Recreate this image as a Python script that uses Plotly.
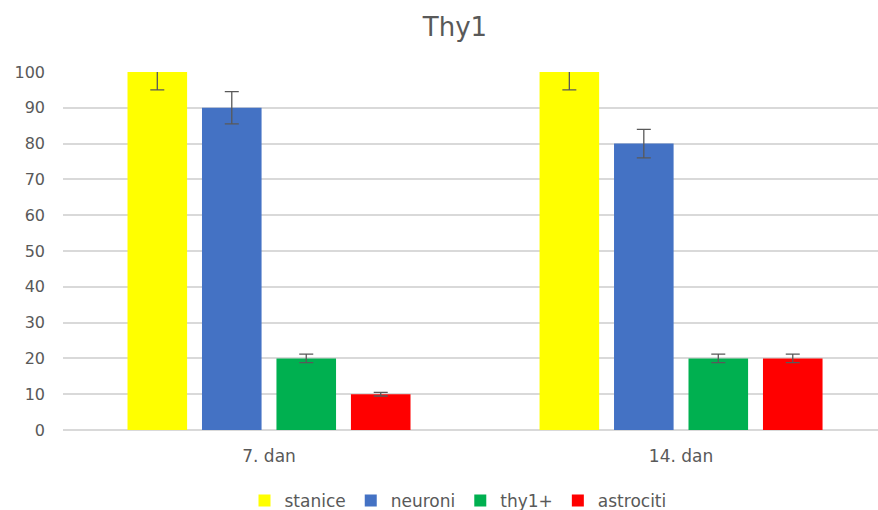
import plotly.graph_objects as go

categories = ["7. dan", "14. dan"]
series_names = ["stanice", "neuroni", "thy1+", "astrociti"]
stanice = [100, 100]
neuroni = [90, 80]
thy1 = [20, 20]
astrociti = [10, 20]
err_stanice = [5, 5]
err_neuroni = [4.5, 4]
err_thy1 = [1.2, 1.2]
err_astrociti = [0.5, 1.2]
colors = ["#FFFF00", "#4472C4", "#00B050", "#FF0000"]

values = [stanice, neuroni, thy1, astrociti]
errors = [err_stanice, err_neuroni, err_thy1, err_astrociti]

font_family = "'DejaVu Sans', sans-serif"
grey = "#595959"

W, H = 878, 510

fig = go.Figure()
for name, vals, errs, col in zip(series_names, values, errors, colors):
    fig.add_trace(go.Bar(
        name=name, x=categories, y=vals, marker=dict(color=col, line=dict(width=0)),
        error_y=dict(type="data", array=errs, visible=True, color=grey, thickness=1.3, width=7),
    ))

fig.update_layout(
    width=W, height=H,
    margin=dict(l=63, r=0, t=72, b=80, autoexpand=False),
    paper_bgcolor="white", plot_bgcolor="white",
    barmode="group", bargap=0.277, bargroupgap=0.2,
    title=dict(text="Thy1", x=455/W, xref="container", xanchor="center",
               y=1 - 27/H, yref="container", yanchor="middle",
               font=dict(family=font_family, size=26, color=grey)),
    font=dict(family=font_family, size=16, color=grey),
    xaxis=dict(range=[-0.5, 1.478], showgrid=False, showline=False, zeroline=False,
               automargin=False, ticks="",
               tickfont=dict(size=17, color=grey), ticklabelstandoff=14),
    yaxis=dict(range=[0, 100], dtick=10, showgrid=True, gridcolor="#D9D9D9", gridwidth=1.5,
               zeroline=True, zerolinecolor="#D9D9D9", zerolinewidth=1.5, showline=False,
               automargin=False, ticks="",
               tickfont=dict(size=16, color=grey), ticklabelstandoff=17),
    legend=dict(orientation="h", x=458/W, xref="container", xanchor="center",
                y=1 - 501/H, yref="container", yanchor="middle",
                font=dict(size=17, color=grey), itemwidth=30, traceorder="normal"),
    showlegend=True,
)

fig.write_html(
    "out.html",
    config={"displayModeBar": False},
    post_script="document.body.style.margin='0';document.body.style.overflow='hidden';",
)
